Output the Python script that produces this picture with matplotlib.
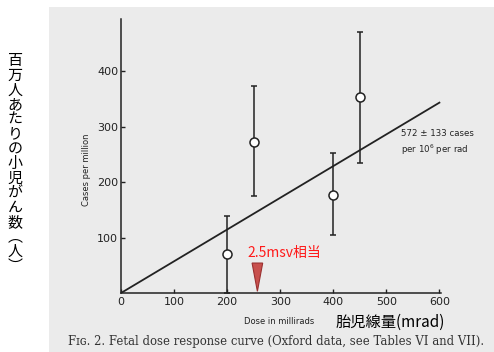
import matplotlib
matplotlib.use("Agg")
import matplotlib.pyplot as plt
from matplotlib.patches import Rectangle, Polygon
import numpy as np

# ---- data ----
doses = [200, 250, 400, 450]
cases = [70, 273, 176, 353]
err_low = [0, 175, 104, 234]
err_high = [139, 373, 252, 471]
slope = 0.572  # cases per million per mrad
fit_x = [0, 600]
x_ticks = [0, 100, 200, 300, 400, 500, 600]
y_ticks = [100, 200, 300, 400]
marker_dose = 257
marker_top = 54

W, H = 494, 352
fig = plt.figure(figsize=(W / 100, H / 100), dpi=100)
fig.patch.set_facecolor("white")
fig.add_artist(Rectangle((49 / W, 0), 1 - 49 / W, (H - 7) / H, transform=fig.transFigure,
                         facecolor="#ebebeb", edgecolor="none", zorder=0))

ax = fig.add_axes([121 / W, 59 / H, (441 - 121) / W, (333 - 59) / H])
ax.set_facecolor("none")
ax.set_xlim(0, 603)
ax.set_ylim(0, 494)
for s in ["top", "right"]:
    ax.spines[s].set_visible(False)
for s in ["left", "bottom"]:
    ax.spines[s].set_linewidth(1.1)
    ax.spines[s].set_color("#222222")

ax.set_xticks(x_ticks)
ax.set_xticklabels([str(v) for v in x_ticks])
ax.set_yticks(y_ticks)
ax.set_yticklabels([str(v) for v in y_ticks])
ax.tick_params(axis="both", direction="in", length=3, width=1, colors="#222222",
               labelsize=8, labelcolor="#222222")
ax.tick_params(axis="x", pad=3)
ax.tick_params(axis="y", pad=2)

# fit line
fx = np.array(fit_x)
ax.plot(fx, slope * fx, color="#222222", lw=1.3, zorder=2)

# error bars and points
c = np.array(cases)
yerr = [c - np.array(err_low), np.array(err_high) - c]
ax.errorbar(doses, cases, yerr=yerr, fmt="o", ms=6.5, mfc="white", mec="#222222",
            mew=1.1, ecolor="#222222", elinewidth=1.1, capsize=2, capthick=1, zorder=3,
            clip_on=False)

# red marker
hw = 10
tri = Polygon([[marker_dose - hw, marker_top], [marker_dose + hw, marker_top], [marker_dose, 3]],
              closed=True, facecolor="#c8504d", edgecolor="#9a3030", lw=0.8, zorder=4)
ax.add_patch(tri)

jp = ["Noto Sans CJK JP", "DejaVu Sans"]
ax.text(marker_dose - 18, 72, "2.5msv相当", color="#ff1a1a", fontsize=10, family=jp,
        ha="left", va="center")

ax.text(527, 288, "572 ± 133 cases", fontsize=6.2, ha="left", va="center", color="#222222")
ax.text(527, 258, "per 10$^6$ per rad", fontsize=6.2, ha="left", va="center", color="#222222")

fig.text(86 / W, 1 - 170 / H, "Cases per million", rotation=90, fontsize=6,
         ha="center", va="center", color="#222222")
fig.text(279 / W, 1 - 321 / H, "Dose in millirads", fontsize=6, ha="center", va="center",
         color="#222222")
fig.text(390 / W, 1 - 322 / H, "胎児線量(mrad)", fontsize=11, family=jp, ha="center",
         va="center", color="black")
fig.text(276 / W, 1 - 341 / H,
         "Fɪɢ. 2. Fetal dose response curve (Oxford data, see Tables VI and VII).",
         fontsize=8.4, family="DejaVu Serif", ha="center", va="center", color="#333333")

# vertical Japanese y-axis title, one character per line
vert = "百万人あたりの小児がん数︵人︶"
top_px, step_px = 59.5, 14.7
for i, ch in enumerate(vert):
    fig.text(15 / W, 1 - (top_px + i * step_px) / H, ch, fontsize=10.8, family=jp,
             ha="center", va="center_baseline", color="black")

fig.savefig("out.png", dpi=100)
